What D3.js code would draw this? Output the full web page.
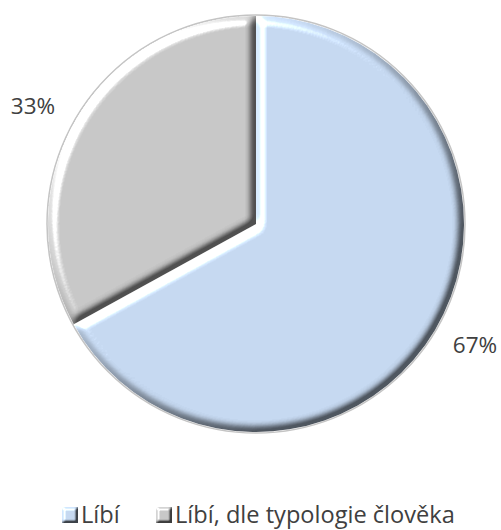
<!DOCTYPE html>
<html>
<head>
<meta charset="utf-8">
<script src="https://cdn.jsdelivr.net/npm/d3@7"></script>
<style>
  html, body { margin: 0; padding: 0; background: #fff; }
  svg { display: block; }
  text { font-family: "Open Sans", sans-serif; fill: #404040; }
</style>
</head>
<body>
<svg id="chart" width="501" height="530"></svg>
<script>
// Share of answers
const categories = ["Líbí", "Líbí, dle typologie člověka"];
const values = [67, 33];
const labels = ["67%", "33%"];
const colors = ["#C6D9F1", "#C8C8C8"];

const W = 501, H = 530;
const cx = 256, cy = 224, R = 208;

const svg = d3.select("#chart");
const defs = svg.append("defs");

// Bevel: the blurred alpha acts as a height map lit from the upper left.
// The diffuse light level is compressed, divided by its flat value and
// multiplied into the fill, so the interior keeps its colour while edges
// lighten or darken; a specular pass (minus its flat level) adds the sheen.
function bevel(id, blur, scale, elev, range, shine) {
  const rad = Math.PI / 180;
  const L0 = Math.sin(elev * rad);
  const specElev = 25, specExp = 12;
  const S0 = shine * Math.pow(Math.cos((90 - specElev) / 2 * rad), specExp);
  const f = defs.append("filter").attr("id", id)
    .attr("x", "-10%").attr("y", "-10%").attr("width", "120%").attr("height", "120%")
    .attr("color-interpolation-filters", "sRGB");
  f.append("feGaussianBlur").attr("in", "SourceAlpha").attr("stdDeviation", blur).attr("result", "b");
  const l = f.append("feDiffuseLighting").attr("in", "b").attr("surfaceScale", scale)
    .attr("diffuseConstant", 1).attr("lighting-color", "#fff").attr("result", "raw");
  l.append("feDistantLight").attr("azimuth", 225).attr("elevation", elev);
  const ct = f.append("feComponentTransfer").attr("in", "raw").attr("result", "lit");
  ["feFuncR", "feFuncG", "feFuncB"].forEach(fn =>
    ct.append(fn).attr("type", "linear").attr("slope", range).attr("intercept", (1 - range) * L0));
  // opaque copy of the fill so edge pixels are shaded like the interior
  f.append("feComponentTransfer").attr("in", "SourceGraphic").attr("result", "solid")
    .append("feFuncA").attr("type", "table").attr("tableValues", "0 1 1 1 1 1");
  f.append("feComposite").attr("in", "solid").attr("in2", "lit")
    .attr("operator", "arithmetic").attr("k1", 1 / L0).attr("result", "mix");
  const s = f.append("feSpecularLighting").attr("in", "b").attr("surfaceScale", scale)
    .attr("specularConstant", shine).attr("specularExponent", specExp)
    .attr("lighting-color", "#fff").attr("result", "spec");
  s.append("feDistantLight").attr("azimuth", 225).attr("elevation", specElev);
  // specular keeps its strength in alpha; move it into the colour channels
  f.append("feColorMatrix").attr("in", "spec").attr("type", "matrix")
    .attr("values", `0 0 0 1 ${-S0}  0 0 0 1 ${-S0}  0 0 0 1 ${-S0}  0 0 0 0 1`)
    .attr("result", "specN");
  f.append("feComposite").attr("in", "mix").attr("in2", "specN")
    .attr("operator", "arithmetic").attr("k2", 1).attr("k3", 1).attr("result", "lit2");
  f.append("feComposite").attr("in", "lit2").attr("in2", "SourceAlpha").attr("operator", "in");
}
bevel("bevel", 4.5, 8, 45, 0.6, 0.7);
bevel("bevelSmall", 1.6, 4, 45, 0.7, 0.5);

const pie = d3.pie().sort(null).value(d => d)(values);
const arc = d3.arc().innerRadius(0).outerRadius(R);

const g = svg.append("g").attr("transform", `translate(${cx},${cy})`);

// thin outer rim
g.append("circle").attr("r", R + 1).attr("fill", "none")
  .attr("stroke", "#c4c4c4").attr("stroke-width", 1.5);

g.selectAll("path.slice").data(pie).join("path")
  .attr("class", "slice")
  .attr("d", arc)
  .attr("fill", (d, i) => colors[i])
  .attr("filter", "url(#bevel)");

// percentage labels, outside the pie
const labelPos = [[475 - cx, 344 - cy], [33 - cx, 105 - cy]];
g.selectAll("text.pct").data(pie).join("text")
  .attr("class", "pct")
  .attr("x", (d, i) => labelPos[i][0])
  .attr("y", (d, i) => labelPos[i][1])
  .attr("text-anchor", "middle")
  .attr("dominant-baseline", "central")
  .attr("font-size", 22.5)
  .text((d, i) => labels[i]);

// legend
const legend = svg.append("g").attr("transform", "translate(0,514)");
const legendX = [62, 156];
const items = legend.selectAll("g").data(categories).join("g")
  .attr("transform", (d, i) => `translate(${legendX[i]},0)`);
items.append("rect").attr("x", 0).attr("y", -7).attr("width", 16).attr("height", 16)
  .attr("fill", (d, i) => colors[i]).attr("filter", "url(#bevelSmall)");
items.append("text").attr("x", 19).attr("y", 0)
  .attr("dominant-baseline", "central").attr("font-size", 23.6)
  .text(d => d);
</script>
</body>
</html>
